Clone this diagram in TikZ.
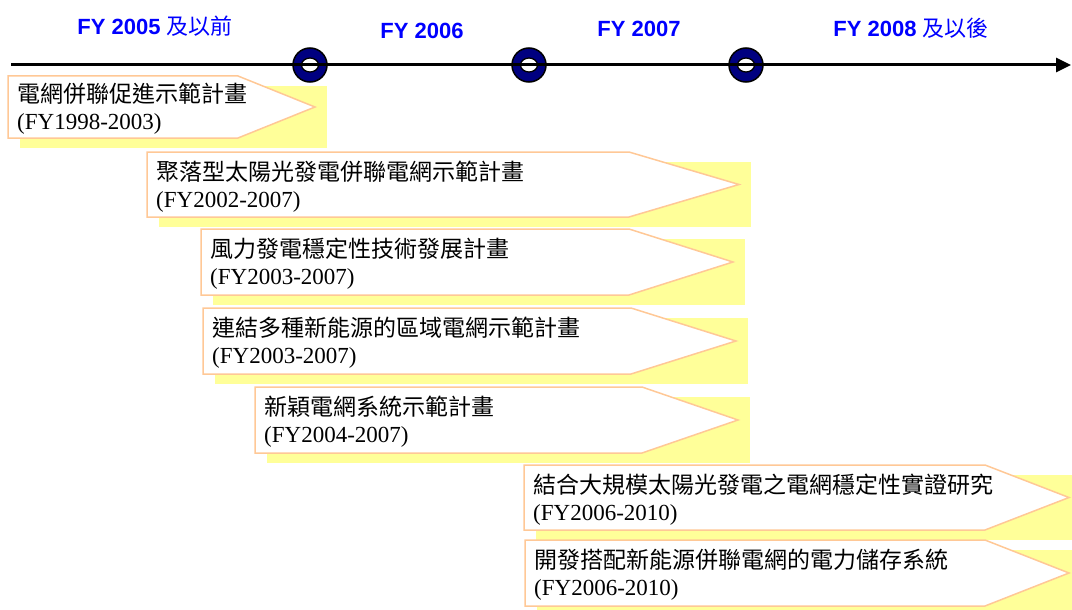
\documentclass[tikz,border=0pt]{standalone}
\usepackage{fontspec}
\setmainfont{Liberation Serif}
\newfontfamily\cjkf{Noto Sans CJK TC}
\newfontfamily\hdf{Liberation Sans}
\usetikzlibrary{arrows.meta}
\definecolor{navyc}{HTML}{000080}
\definecolor{hdblue}{HTML}{0000FF}
\definecolor{shadowc}{HTML}{FFFF99}
\definecolor{edgec}{HTML}{FFC896}
\tikzset{
  hdr/.style={text=hdblue, inner sep=0pt, font=\hdf\bfseries\fontsize{22}{26}\selectfont},
  ring/.style={circle, draw=black, fill=navyc, line width=1.5pt, minimum size=34pt, inner sep=0pt},
  hole/.style={draw=black, fill=white, line width=1.3pt},
  axisline/.style={line width=3pt, -{Triangle[length=15pt,width=14pt]}},
  boxline/.style={draw=edgec, fill=white, line width=1.5pt, line join=miter},
  boxtext/.style={anchor=west, align=left, inner sep=0pt, text=black, font=\fontsize{23}{27}\selectfont},
}
\newcommand\arrowbox[7]{%
  \fill[shadowc] (#2+12,#3+10) rectangle (#6+12,#4+10);
  \draw[boxline] (#2,#3) -- (#5,#3) -- (#6,{(#3+#4)/2}) -- (#5,#4) -- (#2,#4) -- cycle;
  \node[boxtext] (#1) at (#2+9,{(#3+#4)/2+2}) {#7};
}
\begin{document}
\begin{tikzpicture}[x=1pt,y=-1pt]
\useasboundingbox (0,0) rectangle (1072,610);
\clip (0,0) rectangle (1072,610);
% header labels
\node[hdr, anchor=base] (y1) at (155,35) {FY 2005 {\cjkf\mdseries 及以前}};
\node[hdr, anchor=base] (y2) at (422,39) {FY 2006};
\node[hdr, anchor=base] (y3) at (639,37) {FY 2007};
\node[hdr, anchor=base] (y4) at (911,37) {FY 2008 {\cjkf\mdseries 及以後}};
% milestones
\node[ring] (m1) at (310,65) {};
\node[ring] (m2) at (529,65) {};
\node[ring] (m3) at (746,65) {};
\foreach \m in {m1,m2,m3}{\draw[hole] (\m.center) ellipse (8.5 and 7);}
% axis
\coordinate (axs) at (11,65);
\coordinate (axe) at (1071,65);
\draw[axisline] (axs) -- (axe);
% project boxes
\arrowbox{b1}{8}{76}{138}{238}{315}{{\cjkf 電網併聯促進示範計畫}\\(FY1998-2003)}
\arrowbox{b2}{147}{152}{217}{629}{739}{{\cjkf 聚落型太陽光發電併聯電網示範計畫}\\(FY2002-2007)}
\arrowbox{b3}{201}{229}{295}{629}{733}{{\cjkf 風力發電穩定性技術發展計畫}\\(FY2003-2007)}
\arrowbox{b4}{203}{308}{374}{631}{736}{{\cjkf 連結多種新能源的區域電網示範計畫}\\(FY2003-2007)}
\arrowbox{b5}{255}{387}{453}{642}{738}{{\cjkf 新穎電網系統示範計畫}\\(FY2004-2007)}
\arrowbox{b6}{524}{465}{530}{985}{1069}{{\cjkf 結合大規模太陽光發電之電網穩定性實證研究}\\(FY2006-2010)}
\arrowbox{b7}{525}{540}{606}{985}{1069}{{\cjkf 開發搭配新能源併聯電網的電力儲存系統}\\(FY2006-2010)}
\end{tikzpicture}
\end{document}
